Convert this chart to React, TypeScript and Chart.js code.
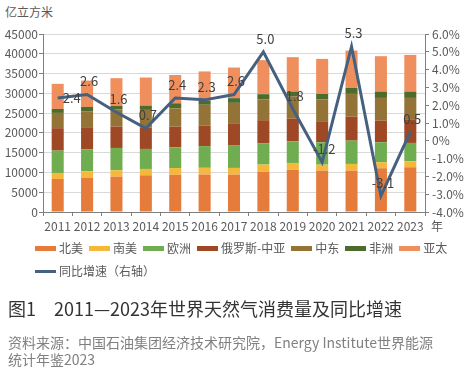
import React, { useEffect, useRef } from "react";
import { Chart, registerables } from "chart.js";

Chart.register(...registerables);

const years = ["2011", "2012", "2013", "2014", "2015", "2016", "2017", "2018", "2019", "2020", "2021", "2022", "2023"];
const northAmerica = [8350, 8600, 8940, 9280, 9420, 9480, 9450, 10200, 10700, 10450, 10450, 11060, 11310];
const southAmerica = [1520, 1700, 1610, 1600, 1690, 1690, 1690, 1800, 1700, 1520, 1700, 1510, 1520];
const europe = [5650, 5560, 5640, 5060, 5230, 5490, 5640, 5390, 5480, 5660, 5890, 5060, 4630];
const russiaCentralAsia = [5670, 5570, 5410, 5400, 5240, 5220, 5490, 5820, 5730, 5310, 6070, 5470, 5820];
const middleEast = [3860, 4050, 4290, 4470, 4630, 5230, 5320, 5230, 5560, 5480, 5750, 5740, 5560];
const africa = [1010, 1090, 930, 1090, 1270, 1090, 1190, 1350, 1270, 1440, 1510, 1600, 1600];
const asiaPacific = [6340, 6650, 7010, 7100, 7160, 7340, 7740, 8600, 8700, 8850, 9440, 8950, 9280];
const growth = [2.4, 2.6, 1.6, 0.7, 2.4, 2.3, 2.6, 5.0, 1.8, -1.2, 5.3, -3.1, 0.5];

const seriesNames = ["北美", "南美", "欧洲", "俄罗斯-中亚", "中东", "非洲", "亚太"];
const seriesColors = ["#E67C3C", "#F5B83A", "#70AD50", "#9E4825", "#937436", "#4E6B2E", "#F08F5E"];
const lineName = "同比增速（右轴）";
const lineColor = "#46607F";

const FONT = '"Noto Sans CJK SC", "Noto Sans", sans-serif';
const TICK = "#595959";
const AXIS = "#7F7F7F";

export default function App() {
  const ref = useRef<HTMLCanvasElement | null>(null);

  useEffect(() => {
    if (!ref.current) return;
    const seriesData = [northAmerica, southAmerica, europe, russiaCentralAsia, middleEast, africa, asiaPacific];

    const labelPlugin = {
      id: "growthLabels",
      afterDatasetsDraw(chart: any) {
        const ctx = chart.ctx;
        const meta = chart.getDatasetMeta(7);
        ctx.save();
        ctx.font = "13px " + FONT;
        ctx.fillStyle = "#404040";
        ctx.textBaseline = "middle";
        meta.data.forEach((pt: any, i: number) => {
          const txt = growth[i].toFixed(1);
          if (i === 0) {
            ctx.textAlign = "left";
            ctx.fillText(txt, pt.x + 5, pt.y);
          } else {
            ctx.textAlign = "center";
            ctx.fillText(txt, pt.x + 2, pt.y - 13);
          }
        });
        // unit after x labels
        ctx.font = "12px " + FONT;
        ctx.fillStyle = TICK;
        ctx.textAlign = "left";
        ctx.fillText("年", chart.chartArea.right + 6, chart.chartArea.bottom + 14);
        ctx.restore();
      },
    };

    const chart = new Chart(ref.current, {
      type: "bar",
      data: {
        labels: years,
        datasets: [
          ...seriesData.map((d, i) => ({
            type: "bar" as const,
            label: seriesNames[i],
            data: d,
            backgroundColor: seriesColors[i],
            yAxisID: "y",
            stack: "s",
            order: 2,
            barPercentage: 0.41,
            categoryPercentage: 1,
          })),
          {
            type: "line" as const,
            label: lineName,
            data: growth,
            borderColor: lineColor,
            backgroundColor: lineColor,
            borderWidth: 3,
            pointRadius: 0,
            tension: 0,
            yAxisID: "y1",
            order: 0,
          },
        ],
      } as any,
      options: {
        animation: false,
        responsive: false,
        devicePixelRatio: 1,
        layout: { padding: { top: 34, left: 0, right: 0, bottom: 0 } },
        plugins: {
          legend: { display: false },
          tooltip: { enabled: false },
        },
        scales: {
          x: {
            stacked: true,
            grid: { display: true, drawOnChartArea: false, offset: true, tickLength: 4, tickColor: AXIS },
            border: { color: AXIS, width: 1 },
            ticks: { color: TICK, font: { size: 12, family: FONT }, padding: 3, maxRotation: 0, autoSkip: false },
            afterFit: (s: any) => { s.height = 28; },
          },
          y: {
            stacked: true,
            position: "left",
            min: 0,
            max: 45000,
            ticks: { stepSize: 5000, color: TICK, font: { size: 12, family: FONT }, padding: 1, callback: (v: any) => String(v) },
            grid: { color: "#D9D9D9", tickColor: AXIS, tickLength: 4 },
            border: { color: AXIS, width: 1 },
            afterFit: (s: any) => { s.width = 43; },
          },
          y1: {
            position: "right",
            min: -4,
            max: 6,
            ticks: {
              stepSize: 1,
              color: TICK,
              font: { size: 12, family: FONT },
              padding: 3,
              callback: (v: any) => (Number(v) === 0 ? "0%" : Number(v).toFixed(1) + "%"),
            },
            grid: { drawOnChartArea: false, tickColor: AXIS, tickLength: 4 },
            border: { color: AXIS, width: 1 },
            afterFit: (s: any) => { s.width = 46; },
          },
        },
      } as any,
      plugins: [labelPlugin],
    });
    return () => chart.destroy();
  }, []);

  const legendItem = (name: string, color: string, line = false) => (
    <div key={name} style={{ display: "flex", alignItems: "center", marginRight: 6 }}>
      <div style={{ width: 21, height: line ? 3 : 5, background: color, marginRight: 3 }} />
      <span>{name}</span>
    </div>
  );

  return (
    <div style={{ position: "fixed", top: 0, left: 0, width: 471, height: 373, background: "#fff", fontFamily: FONT, overflow: "hidden" }}>
      <div style={{ position: "absolute", left: 5, top: 3, fontSize: 12, color: TICK, lineHeight: "18px" }}>亿立方米</div>
      <canvas ref={ref} width={471} height={240} style={{ position: "absolute", left: 0, top: 0, width: 471, height: 240 }} />
      <div style={{ position: "absolute", left: 35, top: 240, display: "flex", fontSize: 12, color: TICK, lineHeight: "16px", whiteSpace: "nowrap" }}>
        {seriesNames.map((n, i) => legendItem(n, seriesColors[i]))}
      </div>
      <div style={{ position: "absolute", left: 35, top: 263, display: "flex", fontSize: 12, color: TICK, lineHeight: "16px", whiteSpace: "nowrap" }}>
        {legendItem(lineName, lineColor, true)}
      </div>
      <div style={{ position: "absolute", left: 8, top: 297, fontSize: 18, color: "#333", lineHeight: "22px", whiteSpace: "nowrap" }}>
        图1　2011—2023年世界天然气消费量及同比增速
      </div>
      <div style={{ position: "absolute", left: 8, top: 334, fontSize: 14, color: "#808080", lineHeight: "17px", whiteSpace: "nowrap" }}>
        资料来源：中国石油集团经济技术研究院，Energy Institute世界能源
        <br />
        统计年鉴2023
      </div>
    </div>
  );
}
